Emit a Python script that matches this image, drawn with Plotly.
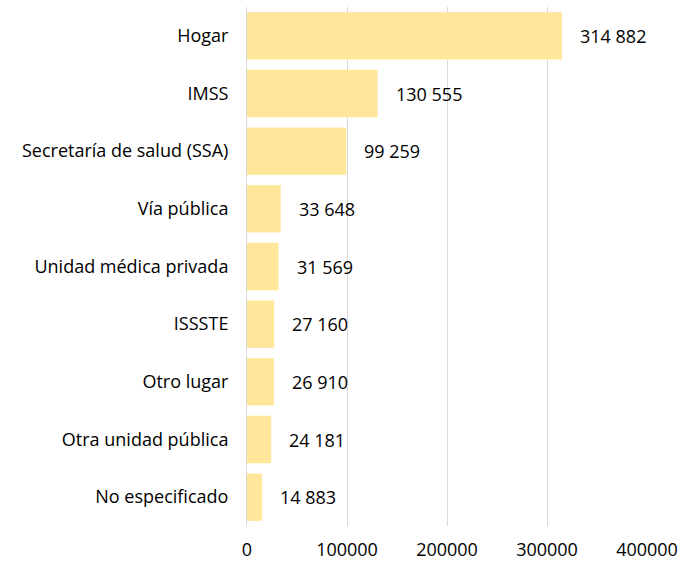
import plotly.graph_objects as go

categorias = ["Hogar", "IMSS", "Secretaría de salud (SSA)", "Vía pública",
              "Unidad médica privada", "ISSSTE", "Otro lugar",
              "Otra unidad pública", "No especificado"]
valores = [314882, 130555, 99259, 33648, 31569, 27160, 26910, 24181, 14883]

etiquetas = [f"{v:,}".replace(",", " ") for v in valores]

fig = go.Figure(go.Bar(
    x=valores,
    y=categorias,
    orientation="h",
    marker_color="#FFE699",
    marker_line_width=0,
    hoverinfo="skip",
))

for c, v, t in zip(categorias, valores, etiquetas):
    fig.add_annotation(x=v, y=c, text=t, showarrow=False, xanchor="left",
                       xshift=16, font=dict(size=18, color="#000000"))

fig.update_layout(
    width=683, height=564,
    margin=dict(l=247, r=36, t=7, b=38),
    plot_bgcolor="white", paper_bgcolor="white",
    font=dict(family="Open Sans, sans-serif", size=18, color="#000000"),
    bargap=0.18,
    showlegend=False,
)
fig.update_xaxes(range=[0, 400000], tickvals=[0, 100000, 200000, 300000, 400000],
                 tickformat="d", showgrid=True, gridcolor="#D9D9D9", gridwidth=1,
                 zeroline=False, showline=False, ticks="outside", ticklen=7,
                 tickcolor="rgba(0,0,0,0)", automargin=False)
fig.update_yaxes(autorange="reversed", showgrid=False, showline=True,
                 linecolor="#D9D9D9", ticks="outside", ticklen=14,
                 tickcolor="rgba(0,0,0,0)", automargin=False)

# the page body has an 8px default margin; drop it so the chart sits at 0,0
fig.write_html("out.html", config={"displayModeBar": False},
               post_script="document.body.style.margin='0';")
